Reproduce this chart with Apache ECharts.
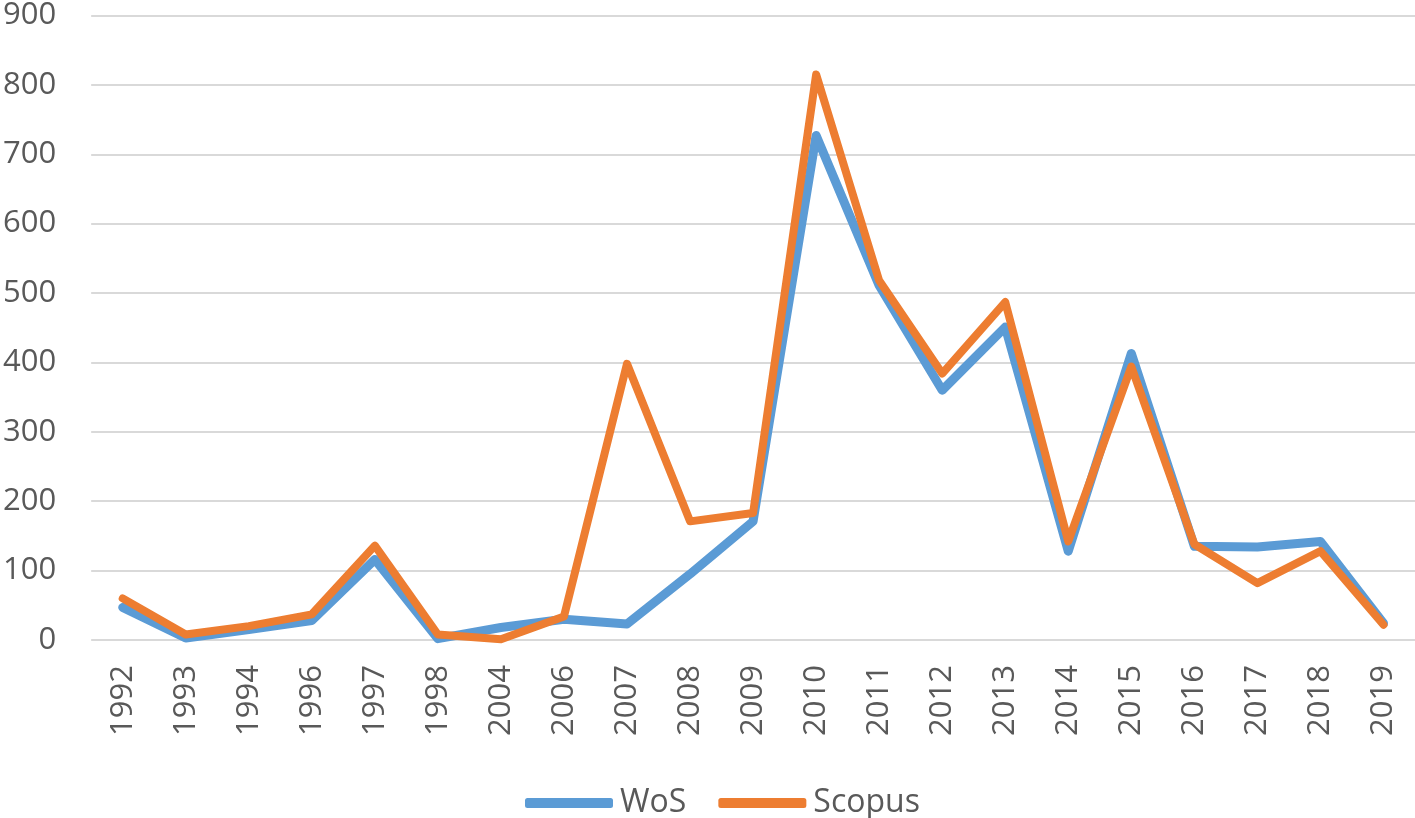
<!DOCTYPE html>
<html>
<head>
<meta charset="utf-8">
<script src="https://cdn.jsdelivr.net/npm/echarts@6/dist/echarts.min.js"></script>
<style>
  html, body { margin: 0; padding: 0; background: #fff; }
  #chart { width: 1415px; height: 818px; }
</style>
</head>
<body>
<div id="chart"></div>
<script>
  // categories on the x axis
  var years = ['1992', '1993', '1994', '1996', '1997', '1998', '2004', '2006', '2007', '2008',
    '2009', '2010', '2011', '2012', '2013', '2014', '2015', '2016', '2017', '2018', '2019'];
  // values
  var wos = [47, 3, 15, 28, 116, 2, 18, 30, 23, 95,
    171, 727, 511, 360, 451, 128, 413, 135, 134, 142, 24];
  var scopus = [60, 8, 20, 37, 136, 8, 1, 34, 398, 171,
    183, 815, 518, 384, 487, 142, 394, 138, 82, 128, 22];
  var seriesNames = ['WoS', 'Scopus'];

  var font = '"Open Sans", sans-serif';
  var chart = echarts.init(document.getElementById('chart'));
  var options = {
    animation: false,
    color: ['#5B9BD5', '#ED7D31'],
    grid: {
      left: 90,
      right: 0,
      top: 13,
      bottom: 178
    },
    legend: {
      data: seriesNames,
      top: 782,
      left: 520,
      icon: 'roundRect',
      itemWidth: 88,
      itemHeight: 10,
      itemGap: 32,
      textStyle: {
        fontFamily: font,
        fontSize: 32,
        color: '#595959',
        padding: [0, 0, 0, 2]
      }
    },
    xAxis: {
      type: 'category',
      data: years,
      boundaryGap: true,
      axisLine: { show: false },
      axisTick: { show: false },
      axisLabel: {
        rotate: 90,
        margin: 25,
        fontFamily: font,
        fontSize: 31,
        color: '#595959'
      }
    },
    yAxis: {
      type: 'value',
      min: 0,
      max: 900,
      interval: 100,
      axisLine: { show: false },
      axisTick: { show: false },
      axisLabel: {
        margin: 35,
        fontFamily: font,
        fontSize: 31,
        color: '#595959'
      },
      splitLine: {
        lineStyle: { color: '#d9d9d9', width: 2 }
      }
    },
    series: [
      {
        name: 'WoS',
        type: 'line',
        data: wos,
        symbol: 'none',
        lineStyle: { width: 9, cap: 'round', join: 'round' }
      },
      {
        name: 'Scopus',
        type: 'line',
        data: scopus,
        symbol: 'none',
        lineStyle: { width: 8, cap: 'round', join: 'round' }
      }
    ]
  };
  chart.setOption(options);
</script>
</body>
</html>
